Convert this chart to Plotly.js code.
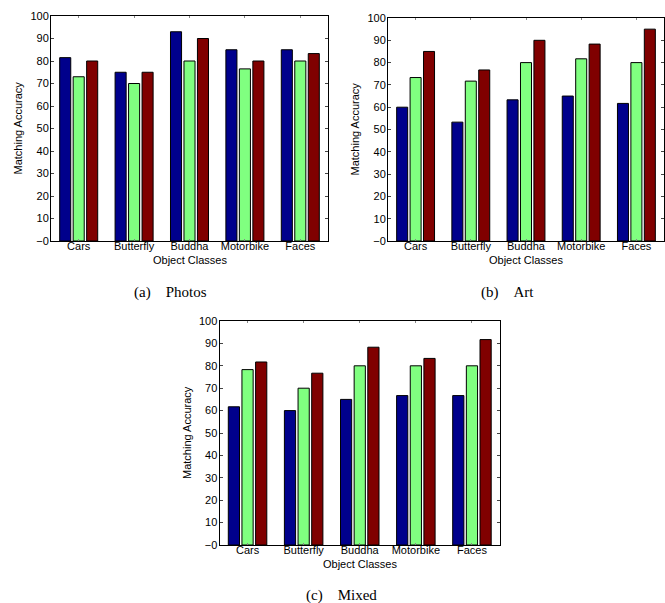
<!DOCTYPE html>
<html>
<head>
<meta charset="utf-8">
<script src="https://cdn.plot.ly/plotly-3.0.1.min.js"></script>
<style>html,body{margin:0;padding:0;background:#fff;}#chart{width:665px;height:603px;}</style>
</head>
<body>
<div id="chart"></div>
<script>
const categories = ['Cars', 'Butterfly', 'Buddha', 'Motorbike', 'Faces'];
const yTickVals = [0, 10, 20, 30, 40, 50, 60, 70, 80, 90, 100];
const yTickText = ['\u22120', '10', '20', '30', '40', '50', '60', '70', '80', '90', '100'];

const photosBlue  = [81.5, 75, 93, 85, 85];
const photosGreen = [73, 70, 80, 76.5, 80];
const photosRed   = [80, 75, 90, 80, 83.3];

const artBlue  = [60, 53.3, 63.3, 65, 61.7];
const artGreen = [73.3, 71.7, 80, 81.7, 80];
const artRed   = [85, 76.7, 90, 88.3, 95];

const mixedBlue  = [61.7, 60, 65, 66.7, 66.7];
const mixedGreen = [78.3, 70, 80, 80, 80];
const mixedRed   = [81.7, 76.7, 88.3, 83.3, 91.7];

const captions = ['(a)\u00A0\u00A0\u00A0\u00A0Photos', '(b)\u00A0\u00A0\u00A0\u00A0Art', '(c)\u00A0\u00A0\u00A0\u00A0Mixed'];
const xTitle = 'Object Classes';
const yTitle = 'Matching Accuracy';

const colors = ['#00008C', '#80FF80', '#800000'];
const W = 665, H = 603;
// panel boxes in pixels: left, right, top, bottom
const boxes = [[51, 328, 16, 241], [388, 664, 18, 241], [219.5, 500, 321, 545]];
const panels = [
  [photosBlue, photosGreen, photosRed],
  [artBlue, artGreen, artRed],
  [mixedBlue, mixedGreen, mixedRed]
];

const data = [];
panels.forEach((series, p) => {
  const sfx = p === 0 ? '' : String(p + 1);
  series.forEach((vals, s) => {
    data.push({
      type: 'bar', x: categories, y: vals,
      xaxis: 'x' + sfx, yaxis: 'y' + sfx,
      marker: {color: colors[s], line: {color: '#000', width: 1}},
      showlegend: false, hoverinfo: 'skip'
    });
  });
});

const font = {family: 'Liberation Sans, Arial, sans-serif', size: 11, color: '#000'};
const layout = {
  width: W, height: H,
  margin: {l: 0, r: 0, t: 0, b: 0},
  paper_bgcolor: '#fff', plot_bgcolor: '#fff',
  barmode: 'group', bargap: 0.27, bargroupgap: 0.18,
  font: font,
  annotations: [], showlegend: false
};

const capPos = [[171, 292], [507, 292], [342, 595]];
const yTitleX = [18, 355, 187];

boxes.forEach((b, p) => {
  const sfx = p === 0 ? '' : String(p + 1);
  const [l, r, t, bt] = b;
  layout['xaxis' + sfx] = {
    domain: [l / W, r / W], anchor: 'y' + sfx,
    range: [-0.5, 4.5], type: 'category',
    showline: true, linecolor: '#000', linewidth: 1, mirror: 'ticks',
    ticks: 'inside', ticklen: 2, tickcolor: '#888', showgrid: false, zeroline: false,
    tickfont: font, automargin: false, ticklabelstandoff: -5
  };
  layout['yaxis' + sfx] = {
    domain: [1 - bt / H, 1 - t / H], anchor: 'x' + sfx,
    range: [0, 100], tickvals: yTickVals, ticktext: yTickText,
    showline: true, linecolor: '#000', linewidth: 1, mirror: 'ticks',
    ticks: 'inside', ticklen: 3, tickcolor: '#444', showgrid: false, zeroline: false,
    tickfont: font, automargin: false, ticklabelstandoff: -1
  };
  layout.annotations.push({
    text: xTitle, xref: 'paper', yref: 'paper',
    x: (l + r) / 2 / W, y: 1 - (bt + 19) / H, showarrow: false,
    xanchor: 'center', yanchor: 'middle', font: font
  });
  layout.annotations.push({
    text: yTitle, xref: 'paper', yref: 'paper', textangle: -90,
    x: yTitleX[p] / W, y: 1 - (t + bt) / 2 / H, showarrow: false,
    xanchor: 'center', yanchor: 'middle', font: font
  });
  layout.annotations.push({
    text: captions[p], xref: 'paper', yref: 'paper',
    x: capPos[p][0] / W, y: 1 - capPos[p][1] / H, showarrow: false,
    xanchor: 'center', yanchor: 'middle',
    font: {family: 'Liberation Serif, Times New Roman, serif', size: 15, color: '#000'}
  });
});

Plotly.newPlot('chart', data, layout, {staticPlot: true, displayModeBar: false});
</script>
</body>
</html>
